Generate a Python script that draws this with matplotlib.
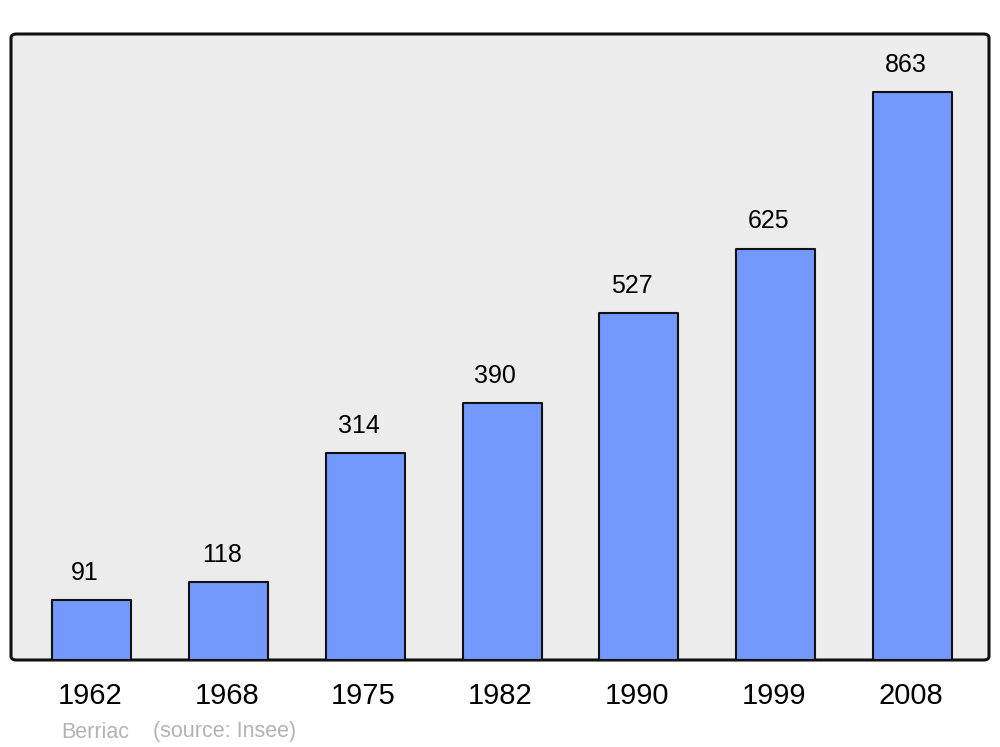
import matplotlib
matplotlib.use("Agg")
import matplotlib.pyplot as plt
import matplotlib.transforms as mtransforms
from matplotlib.patches import FancyBboxPatch

years = ["1962", "1968", "1975", "1982", "1990", "1999", "2008"]
population = [91, 118, 314, 390, 527, 625, 863]
commune = "Berriac"
source = "(source: Insee)"

plt.rcParams['font.family'] = ['Liberation Sans', 'DejaVu Sans']

fig = plt.figure(figsize=(10, 7.47), dpi=100)
ax = fig.add_axes([0.011, 1 - 660 / 747, 0.978, (660 - 34) / 747])
ax.set_facecolor('none')
for s in ax.spines.values():
    s.set_visible(False)

frame = FancyBboxPatch((0, 0), 1, 1, boxstyle="round,pad=0,rounding_size=0.006",
                       transform=ax.transAxes, facecolor='#ececec', edgecolor='#111111',
                       linewidth=2.2, zorder=0, clip_on=False)
ax.add_patch(frame)

x = list(range(len(years)))
bars = ax.bar(x, population, width=0.578, color='#7399ff', edgecolor='#111111',
              linewidth=1.5, zorder=2)
for b in bars:
    b.set_joinstyle('round')

ax.set_xlim(-0.592, 6.56)
ax.set_ylim(0, 951)

for xi, v in zip(x, population):
    ax.annotate(str(v), (xi, v), xytext=(-5, 14.5), textcoords='offset points',
                ha='center', va='baseline', fontsize=18, color='black')

ax.set_xticks(x)
ax.set_xticklabels(years, fontsize=21)
ax.tick_params(axis='x', length=0, pad=16)
ax.set_yticks([])
shift = mtransforms.ScaledTranslation(-2 / 100, 0, fig.dpi_scale_trans)
for lbl in ax.get_xticklabels():
    lbl.set_transform(lbl.get_transform() + shift)

fig.text(0.061, 1 - 732 / 747, commune, fontsize=15.5, color='#b3b3b3', va='center', ha='left')
fig.text(0.153, 1 - 732 / 747, source, fontsize=15.5, color='#b3b3b3', va='center', ha='left')

fig.savefig('out.png', dpi=100)
